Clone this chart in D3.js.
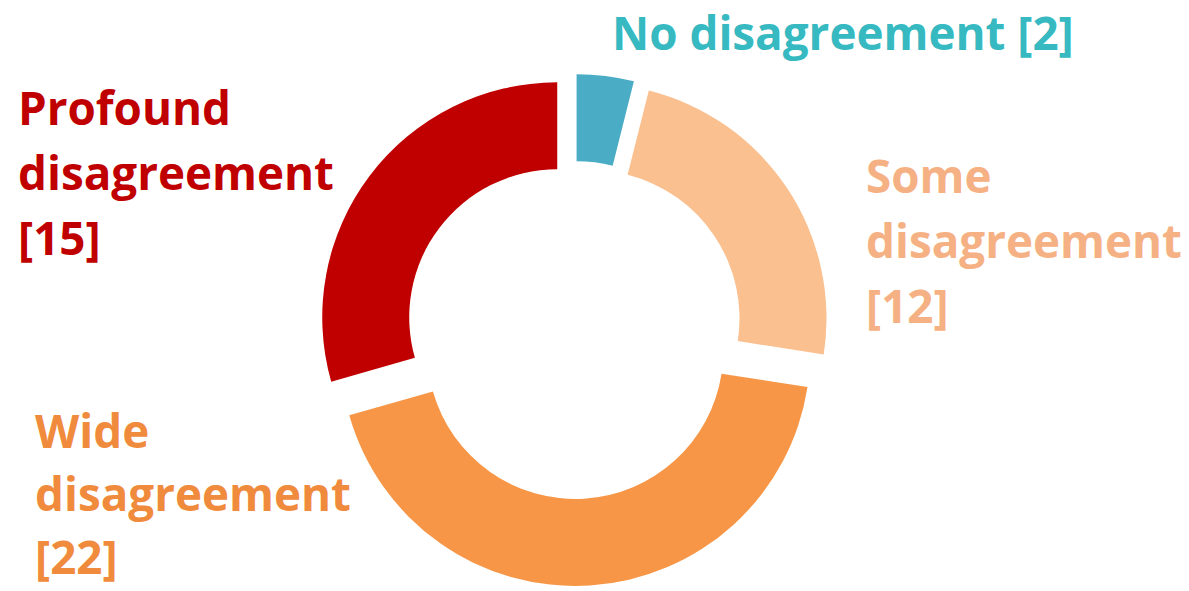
<!DOCTYPE html>
<html>
<head>
<meta charset="utf-8">
<script src="https://cdn.jsdelivr.net/npm/d3@7"></script>
<style>
  html, body { margin: 0; padding: 0; background: #fff; }
  svg { display: block; }
  text { font-family: "Open Sans", "Noto Sans", sans-serif; font-weight: bold; }
</style>
</head>
<body>
<div id="chart"></div>
<script>
(function() {
  var categories = ['No disagreement', 'Some disagreement', 'Wide disagreement', 'Profound disagreement'];
  var values = [2, 12, 22, 15];
  var labelLines = [
    ['No disagreement [2]'],
    ['Some', 'disagreement', '[12]'],
    ['Wide', 'disagreement', '[22]'],
    ['Profound', 'disagreement', '[15]']
  ];
  var sliceColors = ['#4bacc6', '#fac090', '#f79646', '#c00000'];
  var textColors = ['#36b9c1', '#f5b183', '#f08b3d', '#c00000'];

  var width = 1189, height = 591;
  var cx = 574, cy = 330, outer = 235, inner = 148, explode = 21;
  // left x, first baseline y and line step for each label
  var labelPos = [[612, 50, 65], [866, 193, 65], [35, 448, 63], [18, 125, 65]];

  var svg = d3.select('#chart').append('svg')
    .attr('width', width).attr('height', height);

  var data = categories.map(function(c, i) { return { name: c, value: values[i], i: i }; });

  var pie = d3.pie().sort(null).value(function(d) { return d.value; });
  var arc = d3.arc().innerRadius(inner).outerRadius(outer);

  var g = svg.append('g').attr('transform', 'translate(' + cx + ',' + cy + ')');
  g.selectAll('path').data(pie(data)).enter().append('path')
    .attr('d', arc)
    .attr('fill', function(d) { return sliceColors[d.data.i]; })
    .attr('transform', function(d) {
      var a = (d.startAngle + d.endAngle) / 2;
      return 'translate(' + (explode * Math.sin(a)) + ',' + (-explode * Math.cos(a)) + ')';
    });

  // size the font so "disagreement" comes out about 316px wide
  var probe = svg.append('text').attr('font-size', 50).text('disagreement');
  var fontSize = 50 * 316 / probe.node().getComputedTextLength();
  probe.remove();

  var labels = svg.selectAll('text.lbl').data(data).enter().append('text')
    .attr('class', 'lbl')
    .attr('font-size', fontSize)
    .attr('fill', function(d) { return textColors[d.i]; });

  labels.each(function(d) {
    var t = d3.select(this), p = labelPos[d.i];
    labelLines[d.i].forEach(function(line, k) {
      t.append('tspan')
        .attr('x', p[0])
        .attr('y', p[1] + k * p[2])
        .text(line);
    });
  });
})();
</script>
</body>
</html>
